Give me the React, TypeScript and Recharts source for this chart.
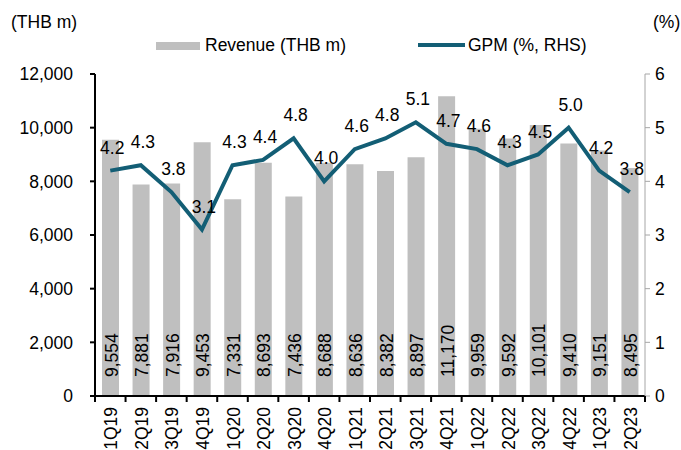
import React from 'react';
import { ComposedChart, Bar, Line, XAxis, YAxis, LabelList } from 'recharts';

const quarters = [
  '1Q19', '2Q19', '3Q19', '4Q19', '1Q20', '2Q20', '3Q20', '4Q20', '1Q21',
  '2Q21', '3Q21', '4Q21', '1Q22', '2Q22', '3Q22', '4Q22', '1Q23', '2Q23',
];
const revenue = [
  9554, 7881, 7916, 9453, 7331, 8693, 7436, 8688, 8636,
  8382, 8897, 11170, 9959, 9592, 10101, 9410, 9151, 8495,
];
const gpm = [
  4.2, 4.3, 3.8, 3.1, 4.3, 4.4, 4.8, 4.0, 4.6,
  4.8, 5.1, 4.7, 4.6, 4.3, 4.5, 5.0, 4.2, 3.8,
];
const leftTicks = [0, 2000, 4000, 6000, 8000, 10000, 12000];
const rightTicks = [0, 1, 2, 3, 4, 5, 6];

const FONT = '"Liberation Sans", Arial, sans-serif';
const FS = 17.5;
const BAR_COLOR = '#BFBFBF';
const LINE_COLOR = '#135E75';
const PLOT_W = 550;

const data = quarters.map((q, i) => ({ q, revenue: revenue[i], gpm: gpm[i] }));

const fmt = (v: number) => v.toLocaleString('en-US');

// x tick: label rotated, tick marks on the band edges
const XTick = (props: any) => {
  const { x, y, payload, index } = props;
  const bw = PLOT_W / quarters.length;
  const last = index === quarters.length - 1;
  return (
    <g>
      <line x1={x - bw / 2} x2={x - bw / 2} y1={y} y2={y + 6} stroke="#000" strokeWidth={2} />
      {last && <line x1={x + bw / 2} x2={x + bw / 2} y1={y} y2={y + 6} stroke="#000" strokeWidth={2} />}
      <text
        transform={`translate(${x + 1},${y + 11}) rotate(-90)`}
        textAnchor="end"
        dominantBaseline="central"
        fontFamily={FONT}
        fontSize={FS}
        fill="#000"
      >
        {payload.value}
      </text>
    </g>
  );
};

const BarValue = (props: any) => {
  const { x, y, width, height, value } = props;
  const cx = x + width / 2;
  const bottom = y + height;
  return (
    <text
      transform={`translate(${cx + 1},${bottom - 19}) rotate(-90)`}
      textAnchor="start"
      dominantBaseline="central"
      fontFamily={FONT}
      fontSize={FS}
      fill="#000"
    >
      {fmt(value)}
    </text>
  );
};

const LineValue = (props: any) => {
  const { x, y, value } = props;
  return (
    <text x={x + 2} y={y - 17} textAnchor="middle" fontFamily={FONT} fontSize={FS} fill="#000">
      {value.toFixed(1)}
    </text>
  );
};

const txt: React.CSSProperties = {
  position: 'absolute',
  fontFamily: FONT,
  fontSize: FS,
  lineHeight: 1,
  whiteSpace: 'nowrap',
  color: '#000',
};

export default function App() {
  return (
    <div style={{ position: 'absolute', left: 0, top: 0, width: 681, height: 450, background: '#fff' }}>
      <ComposedChart
        width={681}
        height={450}
        data={data}
        margin={{ top: 74, right: 0, bottom: 0, left: 0 }}
        barSize={17}
      >
        <XAxis
          dataKey="q"
          xAxisId="x"
          height={54}
          interval={0}
          tickLine={false}
          tickSize={0}
          tickMargin={0}
          stroke="#000"
          strokeWidth={2}
          tick={<XTick />}
        />
        <YAxis
          yAxisId="left"
          width={95}
          domain={[0, 12000]}
          ticks={leftTicks}
          tickFormatter={fmt}
          stroke="#000"
          strokeWidth={2}
          tickSize={5}
          tickMargin={17}
          tick={{ fill: '#000', fontFamily: FONT, fontSize: FS }}
        />
        <YAxis
          yAxisId="right"
          orientation="right"
          width={36}
          domain={[0, 6]}
          ticks={rightTicks}
          stroke="#A6A6A6"
          tickSize={5}
          tickMargin={5}
          tick={{ fill: '#000', fontFamily: FONT, fontSize: FS }}
        />
        <Bar dataKey="revenue" xAxisId="x" yAxisId="left" fill={BAR_COLOR} isAnimationActive={false}>
          <LabelList dataKey="revenue" content={<BarValue />} />
        </Bar>
        <Line
          dataKey="gpm"
          xAxisId="x"
          yAxisId="right"
          type="linear"
          stroke={LINE_COLOR}
          strokeWidth={4}
          dot={false}
          isAnimationActive={false}
        >
          <LabelList dataKey="gpm" content={<LineValue />} />
        </Line>
      </ComposedChart>

      <div style={{ ...txt, left: 11, top: 14 }}>(THB m)</div>
      <div style={{ ...txt, left: 653, top: 14 }}>(%)</div>

      <div style={{ position: 'absolute', left: 156, top: 42, width: 44, height: 8, background: BAR_COLOR }} />
      <div style={{ ...txt, left: 205, top: 37 }}>Revenue (THB m)</div>
      <div style={{ position: 'absolute', left: 418, top: 43, width: 47, height: 4, background: LINE_COLOR }} />
      <div style={{ ...txt, left: 468, top: 37 }}>GPM (%, RHS)</div>
    </div>
  );
}
